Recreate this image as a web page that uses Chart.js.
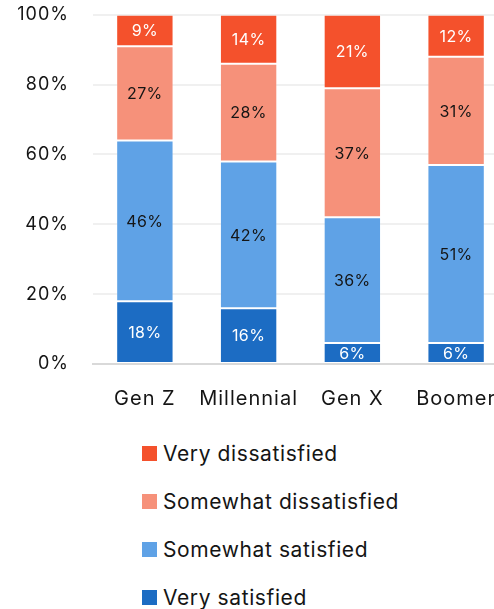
<!DOCTYPE html>
<html>
<head>
<meta charset="utf-8">
<script src="https://cdn.jsdelivr.net/npm/chart.js@4.4.1/dist/chart.umd.min.js"></script>
<style>
  html, body { margin: 0; padding: 0; background: #fff; overflow: hidden; }
  body { width: 494px; height: 609px; position: relative; font-family: Inter, "Noto Sans", sans-serif; }
  #wrap { position: absolute; left: 0; top: -20px; width: 508px; height: 436px; }
  #legend { position: absolute; left: 142px; top: 429px; margin: 0; padding: 0; list-style: none; }
  #legend li { display: flex; align-items: center; height: 48px; font-size: 21px; letter-spacing: 0.6px; color: #151515; }
  #legend li span { display: inline-block; width: 15px; height: 15px; margin-right: 6px; }
</style>
</head>
<body>
<div id="wrap"><canvas id="satChart"></canvas></div>
<ul id="legend"></ul>
<script>
const generations = ['Gen Z', 'Millennial', 'Gen X', 'Boomer'];
const verySatisfied = [18, 16, 6, 6];
const somewhatSatisfied = [46, 42, 36, 51];
const somewhatDissatisfied = [27, 28, 37, 31];
const veryDissatisfied = [9, 14, 21, 12];
const yTicks = [0, 20, 40, 60, 80, 100];

const FONT = 'Inter, "Noto Sans", sans-serif';

// slightly wider letter spacing for the axis text
const spacing = {
  id: 'spacing',
  beforeDraw(chart) { chart.ctx.letterSpacing = '1px'; }
};

// writes each segment's percentage in the middle of the bar piece
const segmentLabels = {
  id: 'segmentLabels',
  afterDatasetsDraw(chart) {
    const ctx = chart.ctx;
    ctx.save();
    ctx.letterSpacing = '0.4px';
    ctx.font = '16px ' + FONT;
    ctx.textAlign = 'center';
    ctx.textBaseline = 'middle';
    chart.data.datasets.forEach((ds, i) => {
      chart.getDatasetMeta(i).data.forEach((bar, j) => {
        const mid = (bar.y + bar.base) / 2 + 1;
        ctx.fillStyle = ds.labelColor;
        ctx.fillText(ds.data[j] + '%', bar.x, mid);
      });
    });
    ctx.restore();
  }
};

const ctx = document.getElementById('satChart').getContext('2d');

const chart = new Chart(ctx, {
  type: 'bar',
  data: {
    labels: generations,
    datasets: [
      { label: 'Very satisfied', data: verySatisfied, backgroundColor: '#1c6cc3', labelColor: '#ffffff' },
      { label: 'Somewhat satisfied', data: somewhatSatisfied, backgroundColor: '#5fa2e6', labelColor: '#151515' },
      { label: 'Somewhat dissatisfied', data: somewhatDissatisfied, backgroundColor: '#f6917a', labelColor: '#151515' },
      { label: 'Very dissatisfied', data: veryDissatisfied, backgroundColor: '#f4512c', labelColor: '#ffffff' }
    ].map(d => Object.assign(d, {
      borderColor: 'rgba(255,255,255,0.18)',
      borderWidth: 1,
      borderSkipped: false,
      barPercentage: 1,
      categoryPercentage: 0.553
    }))
  },
  options: {
    responsive: true,
    maintainAspectRatio: false,
    animation: false,
    layout: { padding: { top: 15, left: 0, right: 0, bottom: 0 } },
    plugins: {
      legend: { display: false },
      tooltip: { enabled: false }
    },
    scales: {
      x: {
        stacked: true,
        grid: { display: false },
        border: { display: true, color: '#d9d9d9', width: 2 },
        ticks: { color: '#151515', font: { family: FONT, size: 20 }, padding: 15 },
        afterFit(scale) { scale.height = 52; }
      },
      y: {
        stacked: true,
        min: 0,
        max: 100,
        border: { display: false },
        afterBuildTicks(scale) { scale.ticks = yTicks.map(v => ({ value: v })); },
        afterFit(scale) { scale.width = 93; },
        grid: {
          drawTicks: false,
          lineWidth: 2,
          color: c => c.tick && c.tick.value === 0 ? '#d9d9d9' : '#f0f0f0'
        },
        ticks: {
          padding: 24,
          color: '#151515',
          font: { family: FONT, size: 18 },
          callback: v => v + '%'
        }
      }
    }
  },
  plugins: [spacing, segmentLabels]
});

// legend list, top series first
const legend = document.getElementById('legend');
chart.data.datasets.slice().reverse().forEach(ds => {
  const li = document.createElement('li');
  const box = document.createElement('span');
  box.style.background = ds.backgroundColor;
  li.appendChild(box);
  li.appendChild(document.createTextNode(ds.label));
  legend.appendChild(li);
});
</script>
</body>
</html>
